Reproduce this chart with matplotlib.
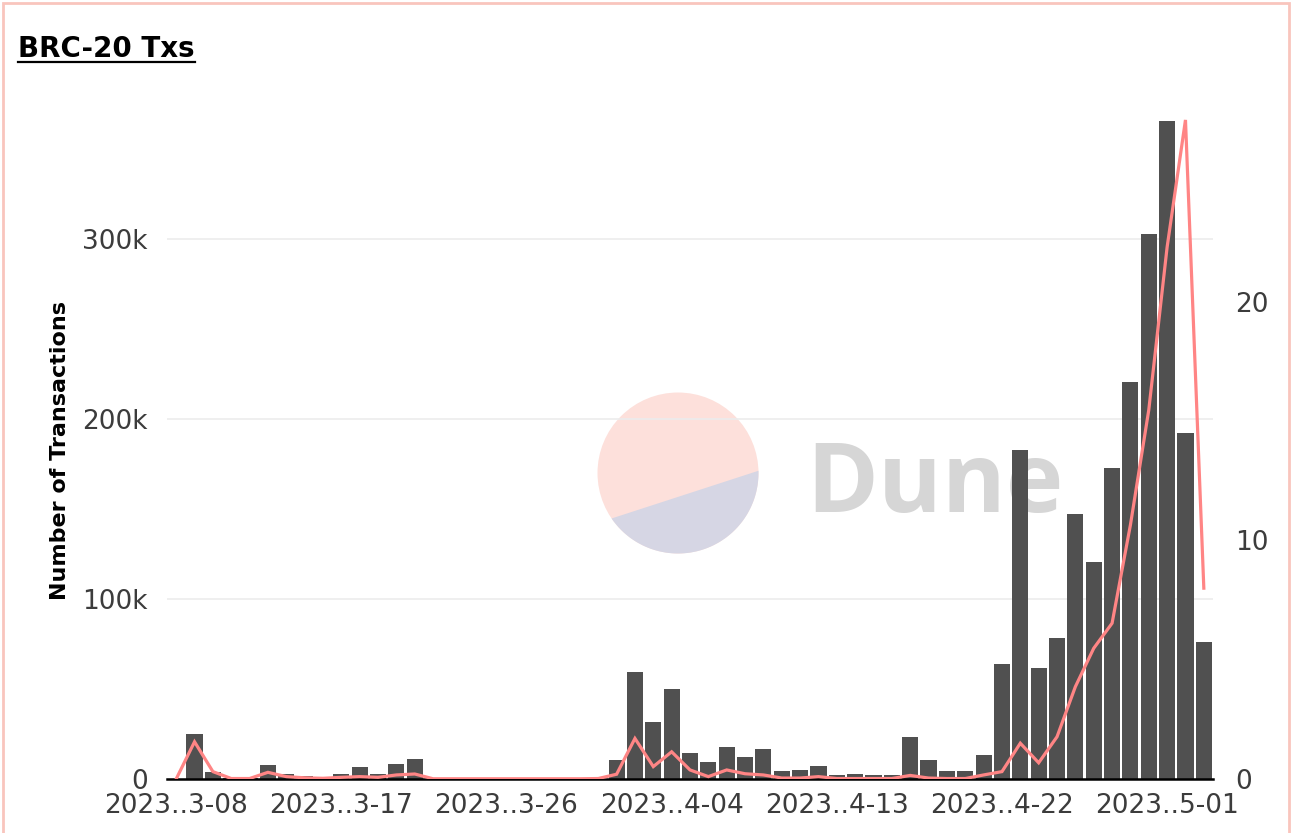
import numpy as np
import matplotlib
matplotlib.use("Agg")
import matplotlib.pyplot as plt
from matplotlib.patches import Circle, Polygon, Rectangle
from matplotlib.lines import Line2D
from matplotlib.transforms import IdentityTransform

plt.rcParams['font.family'] = ['DejaVu Sans']

# daily data, 2023-03-08 .. 2023-05-03
dates = np.arange('2023-03-08', '2023-05-04', dtype='datetime64[D]')

# number of BRC-20 transactions per day (thousands)
txs_k = [0, 25, 4, 0.8, 0.5, 8, 2.6, 1.7, 1.1, 3, 6.9, 2.6, 8.5, 11.3,
         0, 0, 0, 0, 0, 0, 0, 0, 0, 0,
         10.5, 59.6, 31.9, 50, 14.4, 9.4, 18, 12.2, 16.7, 4.3, 5.2, 7.2,
         2.4, 2.6, 2.0, 2.2, 23.6, 10.8, 4.6, 4.4, 13.2, 63.7, 183, 61.8,
         78.2, 147, 120.7, 173, 220.5, 302.8, 365.6, 192, 76.3]

# second series (right axis)
right_vals = [0, 1.56, 0.31, 0.02, 0.02, 0.28, 0.1, 0.05, 0.03, 0.07, 0.1, 0.07, 0.17, 0.21,
              0.01, 0.01, 0.01, 0.01, 0.01, 0.01, 0.01, 0.01, 0.01, 0.02,
              0.2, 1.7, 0.52, 1.14, 0.38, 0.1, 0.38, 0.22, 0.17, 0.04, 0.04, 0.1,
              0.02, 0.02, 0.02, 0.02, 0.15, 0.04, 0.02, 0.02, 0.17, 0.31, 1.5, 0.68,
              1.77, 3.87, 5.48, 6.53, 10.65, 15.47, 22.3, 27.63, 8.0]

tick_pos = [0, 9, 18, 27, 36, 45, 54]
tick_labels = ['2023..3-08', '2023..3-17', '2023..3-26', '2023..4-04',
               '2023..4-13', '2023..4-22', '2023..5-01']
left_ticks = [0, 100000, 200000, 300000]
left_labels = ['0', '100k', '200k', '300k']
right_ticks = [0, 10, 20]

W, H = 1292, 833
fig = plt.figure(figsize=(W / 100, H / 100), dpi=100)

# axes placed in pixel terms
ax = fig.add_axes([167 / W, 54 / H, (1213 - 167) / W, (779 - 108) / H])
ax.set_facecolor('none')

x = np.arange(len(dates))
ax.bar(x, np.array(txs_k) * 1000, width=0.88, color='#505050', zorder=2)
ax.set_xlim(-0.5, len(dates) - 0.5)
ax.set_ylim(0, 372800)
ax.yaxis.grid(True, color='#ececec', lw=1.2)
ax.set_axisbelow(True)
for s in ['top', 'left', 'right']:
    ax.spines[s].set_visible(False)
ax.spines['bottom'].set_color('black')
ax.spines['bottom'].set_linewidth(1.8)
ax.spines['bottom'].set_zorder(3)

ax.set_yticks(left_ticks)
ax.set_yticklabels(left_labels)
ax.set_xticks(tick_pos)
ax.set_xticklabels(tick_labels)
ax.tick_params(axis='y', length=0, pad=14, labelsize=19, labelcolor='#3c3c3c')
ax.tick_params(axis='x', length=0, pad=10, labelsize=19, labelcolor='#3c3c3c')

ax2 = ax.twinx()
ax2.plot(x, right_vals, color='#ff8585', lw=2.3, solid_joinstyle='miter')
ax2.set_ylim(0, 28.13)
ax2.set_yticks(right_ticks)
ax2.tick_params(axis='y', length=0, pad=16, labelsize=19, labelcolor='#3c3c3c')
for s in ax2.spines.values():
    s.set_visible(False)

# watermark behind the bars
ident = IdentityTransform()
cx, cy, r = 678, H - 473, 80.5
fig.add_artist(Circle((cx, cy), r, transform=ident, facecolor='#fde0db',
                      edgecolor='none', zorder=-2))
th = np.radians(np.linspace(214.4, 361.6, 120))
seg = np.column_stack([cx + r * np.cos(th), cy + r * np.sin(th)])
fig.add_artist(Polygon(seg, closed=True, transform=ident, facecolor='#d6d6e4',
                       edgecolor='none', zorder=-2))
fig.text(806.7 / W, 1 - 512 / H, 'Dune', fontsize=70, fontweight='bold',
         family='Open Sans', color='#d6d6d6', ha='left', va='baseline', zorder=-1)

fig.text(60 / W, 1 - 451 / H, 'Number of Transactions', rotation=90,
         ha='center', va='center', fontsize=16, fontweight='bold', color='black')

title = fig.text(18 / W, 1 - 57 / H, 'BRC-20 Txs', fontsize=20,
                 fontweight='bold', color='black', ha='left', va='baseline')
fig.canvas.draw()
bb = title.get_window_extent()
fig.add_artist(Line2D([bb.x0, bb.x1], [H - 61.5, H - 61.5], transform=ident,
                      color='black', lw=1.6))

# card border
fig.add_artist(Rectangle((3, -20), W - 6, H + 20 - 3, transform=ident,
                         facecolor='none', edgecolor='#f9c5bd', lw=2, zorder=5))

fig.savefig('out.png', dpi=100)
